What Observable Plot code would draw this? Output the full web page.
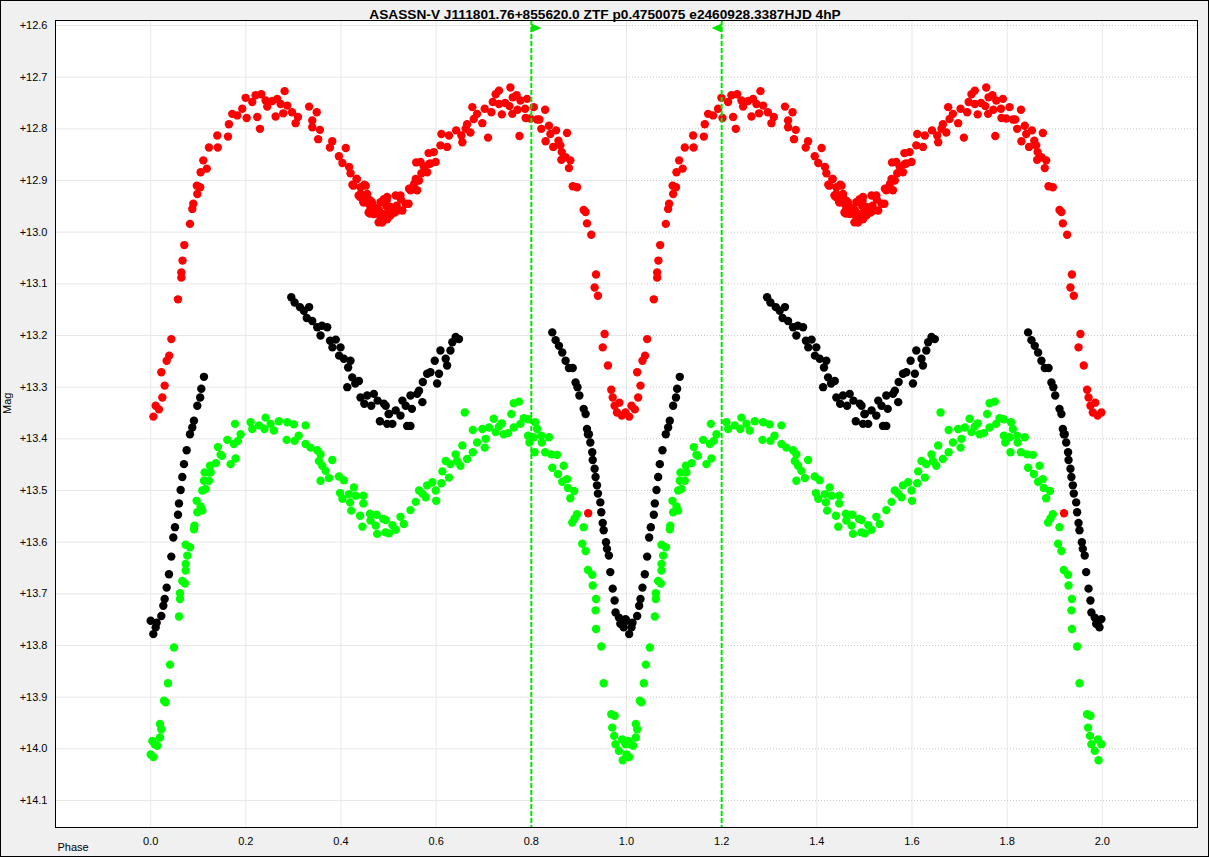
<!DOCTYPE html>
<html><head><meta charset="utf-8">
<script src="https://cdn.jsdelivr.net/npm/d3@7"></script>
<script src="https://cdn.jsdelivr.net/npm/@observablehq/plot@0.6"></script>
<style>
html,body{margin:0;padding:0;background:#f0f0f0;}
#chart svg{display:block;}
</style></head><body><div id="chart"></div><script>
const title = "ASASSN-V J111801.76+855620.0 ZTF p0.4750075 e2460928.3387HJD 4hP";
const xLabel = "Phase";
const yLabel = "Mag";
const xTicks = [0,0.2,0.4,0.6,0.8,1.0,1.2,1.4,1.6,1.8,2.0];
const yTicks = [12.6,12.7,12.8,12.9,13.0,13.1,13.2,13.3,13.4,13.5,13.6,13.7,13.8,13.9,14.0,14.1];
const markerRight = [0.8];
const markerLeft = [1.2];

// phase, mag (one cycle 0..1; plotted twice)
const redPts = [[0.0057,13.357],[0.0105,13.336],[0.0175,13.343],[0.0245,13.32],[0.0294,13.297],[0.0224,13.271],[0.0336,13.249],[0.039,13.239],[0.0434,13.207],[0.0574,13.13],[0.0644,13.088],[0.0644,13.078],[0.067,13.055],[0.0707,13.025],[0.0826,12.984],[0.0875,12.955],[0.0896,12.945],[0.098,12.926],[0.097,12.91],[0.104,12.913],[0.105,12.884],[0.1106,12.861],[0.118,12.877],[0.1225,12.836],[0.141,12.836],[0.140,12.813],[0.1625,12.815],[0.1645,12.791],[0.1715,12.771],[0.182,12.774],[0.1925,12.761],[0.1995,12.74],[0.2017,12.779],[0.2135,12.748],[0.2205,12.735],[0.2325,12.733],[0.224,12.777],[0.2297,12.8],[0.2415,12.745],[0.245,12.757],[0.2556,12.746],[0.2626,12.776],[0.266,12.742],[0.273,12.752],[0.2815,12.727],[0.2787,12.77],[0.287,12.755],[0.297,12.768],[0.3046,12.789],[0.3095,12.777],[0.333,12.757],[0.349,12.768],[0.3396,12.784],[0.3396,12.797],[0.3557,12.802],[0.352,12.82],[0.3816,12.824],[0.3767,12.836],[0.41,12.837],[0.3956,12.853],[0.403,12.866],[0.417,12.874],[0.42,12.886],[0.433,12.897],[0.424,12.908],[0.441,12.913],[0.452,12.91],[0.455,12.926],[0.44,12.932],[0.462,12.939],[0.448,12.942],[0.469,12.951],[0.461,12.964],[0.4775,12.955],[0.4867,12.981],[0.496,12.939],[0.5,12.964],
[0.448,12.939],[0.455,12.933],[0.458,12.945],[0.462,12.955],[0.465,12.942],[0.460,12.962],[0.476,12.955],[0.480,12.958],[0.483,12.942],[0.490,12.936],[0.495,12.949],[0.5,12.955],[0.49,12.965],[0.483,12.971],[0.486,12.981],[0.479,12.981],[0.497,12.975],[0.504,12.968],[0.506,12.958],[0.513,12.962],[0.517,12.949],[0.519,12.958],[0.515,12.929],[0.526,12.937],[0.536,12.945],[0.469,12.965],[0.458,12.962],[0.447,12.942],[0.437,12.929],[0.441,12.926],[0.426,12.91],[0.433,12.897],[0.449,12.908],[0.543,12.916],[0.551,12.913],[0.546,12.919],[0.554,12.906],[0.557,12.897],[0.569,12.886],[0.574,12.873],[0.588,12.867],[0.558,12.865],[0.584,12.847],
[0.497,12.932],[0.504,12.951],[0.494,12.971],[0.511,12.961],[0.525,12.929],[0.529,12.958],[0.542,12.945],[0.549,12.916],[0.56,12.919],[0.564,12.9],[0.581,12.884],[0.567,12.864],[0.585,12.868],[0.599,12.864],[0.595,12.845],[0.609,12.832],[0.611,12.81],[0.623,12.835],[0.627,12.813],[0.642,12.803],[0.653,12.813],[0.655,12.826],[0.662,12.8],[0.672,12.807],[0.665,12.791],[0.679,12.781],[0.676,12.758],[0.686,12.771],[0.697,12.789],[0.702,12.761],[0.709,12.817],[0.716,12.768],[0.719,12.748],[0.725,12.733],[0.732,12.726],[0.732,12.752],[0.738,12.772],[0.745,12.75],[0.754,12.756],[0.756,12.72],[0.761,12.739],[0.760,12.771],[0.769,12.735],[0.771,12.763],[0.775,12.814],[0.777,12.745],[0.787,12.761],[0.788,12.779],[0.791,12.742],[0.798,12.78],[0.805,12.758],[0.812,12.782],[0.817,12.782],[0.821,12.8],[0.829,12.763],[0.830,12.824],[0.837,12.794],[0.84,12.81],[0.852,12.803],[0.846,12.835],[0.857,12.823],[0.861,12.832],[0.864,12.845],[0.875,12.808],[0.863,12.86],[0.872,12.855],[0.882,12.861],[0.879,12.876],[0.887,12.911],[0.896,12.913],[0.91,12.957],[0.914,12.961],[0.917,12.983],[0.926,13.005],[0.936,13.082],[0.933,13.107],[0.94,13.123],[0.954,13.197],[0.95,13.223],[0.961,13.258],[0.968,13.305],[0.971,13.32],[0.975,13.336],[0.98,13.349],[0.998,13.349],[0.985,13.33],[0.99,13.355],[0.9195,13.544]];

const blackPts = [[0.0056,13.778],[0.0,13.752],[0.0105,13.765],[0.0126,13.756],[0.0224,13.743],[0.0266,13.723],[0.0294,13.71],[0.0336,13.688],[0.0385,13.662],[0.0434,13.628],[0.0476,13.591],[0.0511,13.571],[0.0574,13.547],[0.0595,13.525],[0.063,13.499],[0.0665,13.474],[0.07,13.449],[0.0756,13.422],[0.0826,13.391],[0.0875,13.378],[0.091,13.365],[0.098,13.336],[0.104,13.32],[0.1064,13.303],[0.112,13.28],
[0.2955,13.126],[0.3025,13.136],[0.3136,13.145],[0.322,13.152],[0.333,13.145],[0.328,13.166],[0.3396,13.172],[0.35,13.184],[0.36,13.181],[0.371,13.184],[0.357,13.2],[0.377,13.21],[0.389,13.208],[0.382,13.223],[0.399,13.223],[0.396,13.239],[0.406,13.245],[0.42,13.249],[0.415,13.262],[0.4236,13.281],[0.4377,13.288],[0.43,13.293],[0.4132,13.3],[0.441,13.32],[0.455,13.316],[0.469,13.313],[0.449,13.332],[0.4636,13.336],[0.477,13.326],[0.4902,13.332],[0.5,13.352],[0.4818,13.366],[0.497,13.371],
[0.494,13.336],[0.501,13.352],[0.508,13.371],[0.515,13.345],[0.525,13.355],[0.529,13.326],[0.536,13.336],[0.539,13.375],[0.546,13.375],[0.549,13.342],[0.546,13.316],[0.56,13.313],[0.564,13.307],[0.571,13.329],[0.572,13.29],[0.581,13.274],[0.588,13.271],[0.602,13.293],[0.606,13.274],[0.597,13.249],[0.609,13.229],[0.623,13.258],[0.62,13.245],[0.63,13.229],[0.634,13.213],[0.641,13.203],[0.648,13.207],
[0.844,13.194],[0.851,13.209],[0.858,13.22],[0.865,13.233],[0.872,13.249],[0.879,13.263],[0.887,13.263],[0.893,13.291],[0.897,13.3],[0.901,13.316],[0.91,13.342],[0.914,13.352],[0.917,13.381],[0.919,13.391],
[0.921,13.391],[0.924,13.407],[0.928,13.426],[0.929,13.441],[0.933,13.458],[0.935,13.474],[0.938,13.49],[0.94,13.506],[0.945,13.523],[0.947,13.542],[0.95,13.563],[0.952,13.577],[0.957,13.6],[0.959,13.613],[0.963,13.626],[0.966,13.658],[0.971,13.69],[0.975,13.713],[0.977,13.736],[0.984,13.746],[0.991,13.758],[0.998,13.749],[0.994,13.765],[0.987,13.758]];

const greenPts = [[0.0056,14.016],[0.0,14.011],[0.0084,13.991],[0.014,13.994],[0.0035,13.985],[0.0196,13.978],[0.0224,13.962],[0.0196,13.952],[0.028,13.907],[0.0315,13.91],[0.0364,13.873],[0.0406,13.837],[0.049,13.804],[0.0595,13.744],[0.0616,13.71],[0.0616,13.699],[0.0665,13.675],[0.0721,13.68],[0.0735,13.655],[0.0735,13.642],[0.077,13.626],[0.0826,13.61],[0.0735,13.605],[0.091,13.575],[0.092,13.568],[0.098,13.542],[0.1085,13.539],[0.0966,13.52],[0.105,13.531],[0.1085,13.5],[0.1155,13.497],[0.112,13.481],[0.1225,13.481],[0.1134,13.465],[0.126,13.465],[0.1246,13.452],[0.137,13.447],[0.1414,13.416],[0.147,13.431],[0.15,13.433],[0.168,13.449],[0.1785,13.438],[0.161,13.402],[0.175,13.41],[0.1834,13.404],[0.189,13.391],[0.1772,13.371],[0.21,13.368],[0.2135,13.381],[0.2275,13.374],[0.2415,13.359],[0.239,13.381],[0.2521,13.371],[0.259,13.384],[0.2695,13.366],[0.2871,13.368],[0.301,13.372],[0.2857,13.402],[0.3025,13.404],[0.3256,13.374],[0.311,13.394],[0.3256,13.41],[0.336,13.417],[0.35,13.422],[0.357,13.43],[0.3536,13.443],[0.3606,13.452],[0.3676,13.462],[0.3816,13.441],[0.357,13.481],[0.375,13.476],[0.3956,13.473],[0.406,13.48],[0.398,13.505],[0.403,13.516],[0.4167,13.507],[0.427,13.494],[0.431,13.51],[0.419,13.523],[0.4216,13.539],[0.447,13.51],[0.447,13.525],[0.44,13.549],[0.445,13.57],[0.461,13.545],[0.462,13.558],[0.475,13.547],[0.473,13.568],[0.476,13.584],[0.4887,13.555],[0.4937,13.581],
[0.494,13.557],[0.501,13.583],[0.508,13.567],[0.515,13.576],[0.525,13.551],[0.532,13.565],[0.546,13.538],[0.557,13.522],[0.564,13.5],[0.571,13.506],[0.578,13.513],[0.581,13.49],[0.592,13.484],[0.599,13.5],[0.6,13.52],[0.611,13.486],[0.613,13.463],[0.62,13.443],[0.627,13.475],[0.63,13.449],[0.641,13.43],[0.644,13.443],[0.651,13.452],[0.655,13.413],[0.665,13.439],[0.677,13.426],[0.677,13.383],[0.686,13.407],[0.697,13.381],[0.702,13.417],[0.704,13.4],[0.711,13.378],[0.721,13.361],[0.725,13.387],[0.732,13.376],[0.738,13.37],[0.742,13.391],[0.751,13.389],[0.758,13.352],[0.763,13.378],[0.777,13.371],[0.784,13.36],[0.793,13.362],[0.793,13.394],[0.796,13.407],[0.805,13.397],[0.808,13.368],[0.812,13.381],[0.807,13.426],[0.821,13.394],[0.822,13.407],[0.829,13.426],[0.837,13.397],[0.842,13.43],[0.854,13.431],[0.844,13.456],[0.856,13.468],[0.868,13.452],[0.865,13.483],[0.875,13.478],[0.877,13.495],[0.89,13.501],[0.882,13.515],[0.896,13.546],[0.891,13.554],[0.886,13.562],[0.91,13.571],[0.907,13.603],[0.914,13.617],[0.919,13.654],[0.928,13.663],[0.929,13.684],[0.936,13.71],[0.935,13.732],[0.936,13.768],[0.947,13.802],[0.952,13.873],[0.968,13.933],[0.975,13.936],[0.970,13.959],[0.974,13.975],[0.977,13.991],[0.984,14.004],[0.992,14.022],[0.998,13.991],[0.991,13.982],[0.763,13.331],[0.774,13.328],[0.66,13.349]];

// phase diagram shows two cycles: each point repeated at phase + 1
const twoCycles = pts => pts.concat(pts.map(([p, m]) => [p + 1, m]));
const red = twoCycles(redPts), black = twoCycles(blackPts), green = twoCycles(greenPts);

const flagRight = {draw(c){ c.moveTo(0,-4.5); c.lineTo(10,0); c.lineTo(0,4.5); c.closePath(); }};
const flagLeft = {draw(c){ c.moveTo(0,-4.5); c.lineTo(-10,0); c.lineTo(0,4.5); c.closePath(); }};
const markerColor = "#00e600";

const plot = Plot.plot({
  width: 1209, height: 857,
  marginLeft: 55, marginRight: 12, marginTop: 20, marginBottom: 30,
  style: {background: "#f0f0f0", fontFamily: "'Liberation Sans', Arial, sans-serif", fontSize: "11px", color: "#000"},
  x: {domain: [-0.2, 2.2], ticks: xTicks, tickFormat: d3.format(".1f"), tickSize: 0, tickPadding: 10, label: null},
  y: {domain: [12.5903, 14.1523], reverse: true, ticks: yTicks, tickFormat: d3.format("+.1f"), tickSize: 0, tickPadding: 8, label: null},
  marks: [
    Plot.frame({fill: "#fff", stroke: "none"}),
    Plot.ruleX(xTicks, {stroke: "#e8e8e8"}),
    Plot.ruleY(yTicks, {x1: -0.2, x2: 1.0, stroke: "#e8e8e8"}),
    Plot.ruleY(yTicks, {x1: 1.0, x2: 2.2, stroke: "#c8c8c8", strokeDasharray: "1,2"}),
    Plot.dot(red, {x: d => d[0], y: d => d[1], r: 4.2, fill: "#ff0000"}),
    Plot.dot(black, {x: d => d[0], y: d => d[1], r: 4.2, fill: "#000000"}),
    Plot.dot(green, {x: d => d[0], y: d => d[1], r: 4.2, fill: "#00ff00"}),
    Plot.ruleX(markerRight.concat(markerLeft), {stroke: markerColor, strokeWidth: 2, strokeDasharray: "5,2"}),
    Plot.dot(markerRight, {x: d => d, frameAnchor: "top", dy: 7.5, symbol: flagRight, fill: markerColor, stroke: "none"}),
    Plot.dot(markerLeft, {x: d => d, frameAnchor: "top", dy: 7.5, symbol: flagLeft, fill: markerColor, stroke: "none"}),
    Plot.frame({stroke: "#000"}),
    Plot.text([title], {frameAnchor: "top", dx: -21.5, dy: -11, fontWeight: "bold", fontSize: 13.7, fill: "#000"}),
    Plot.text([xLabel], {frameAnchor: "bottom-left", textAnchor: "start", dx: 2, dy: 23, fontSize: 11, fill: "#000"}),
    Plot.text([yLabel], {frameAnchor: "left", rotate: -90, dx: -48, dy: -10, fontSize: 11, fill: "#000"})
  ]
});
plot.style.outline = "1px solid #000";
plot.style.outlineOffset = "-1px";
document.getElementById("chart").appendChild(plot);
</script></body></html>
